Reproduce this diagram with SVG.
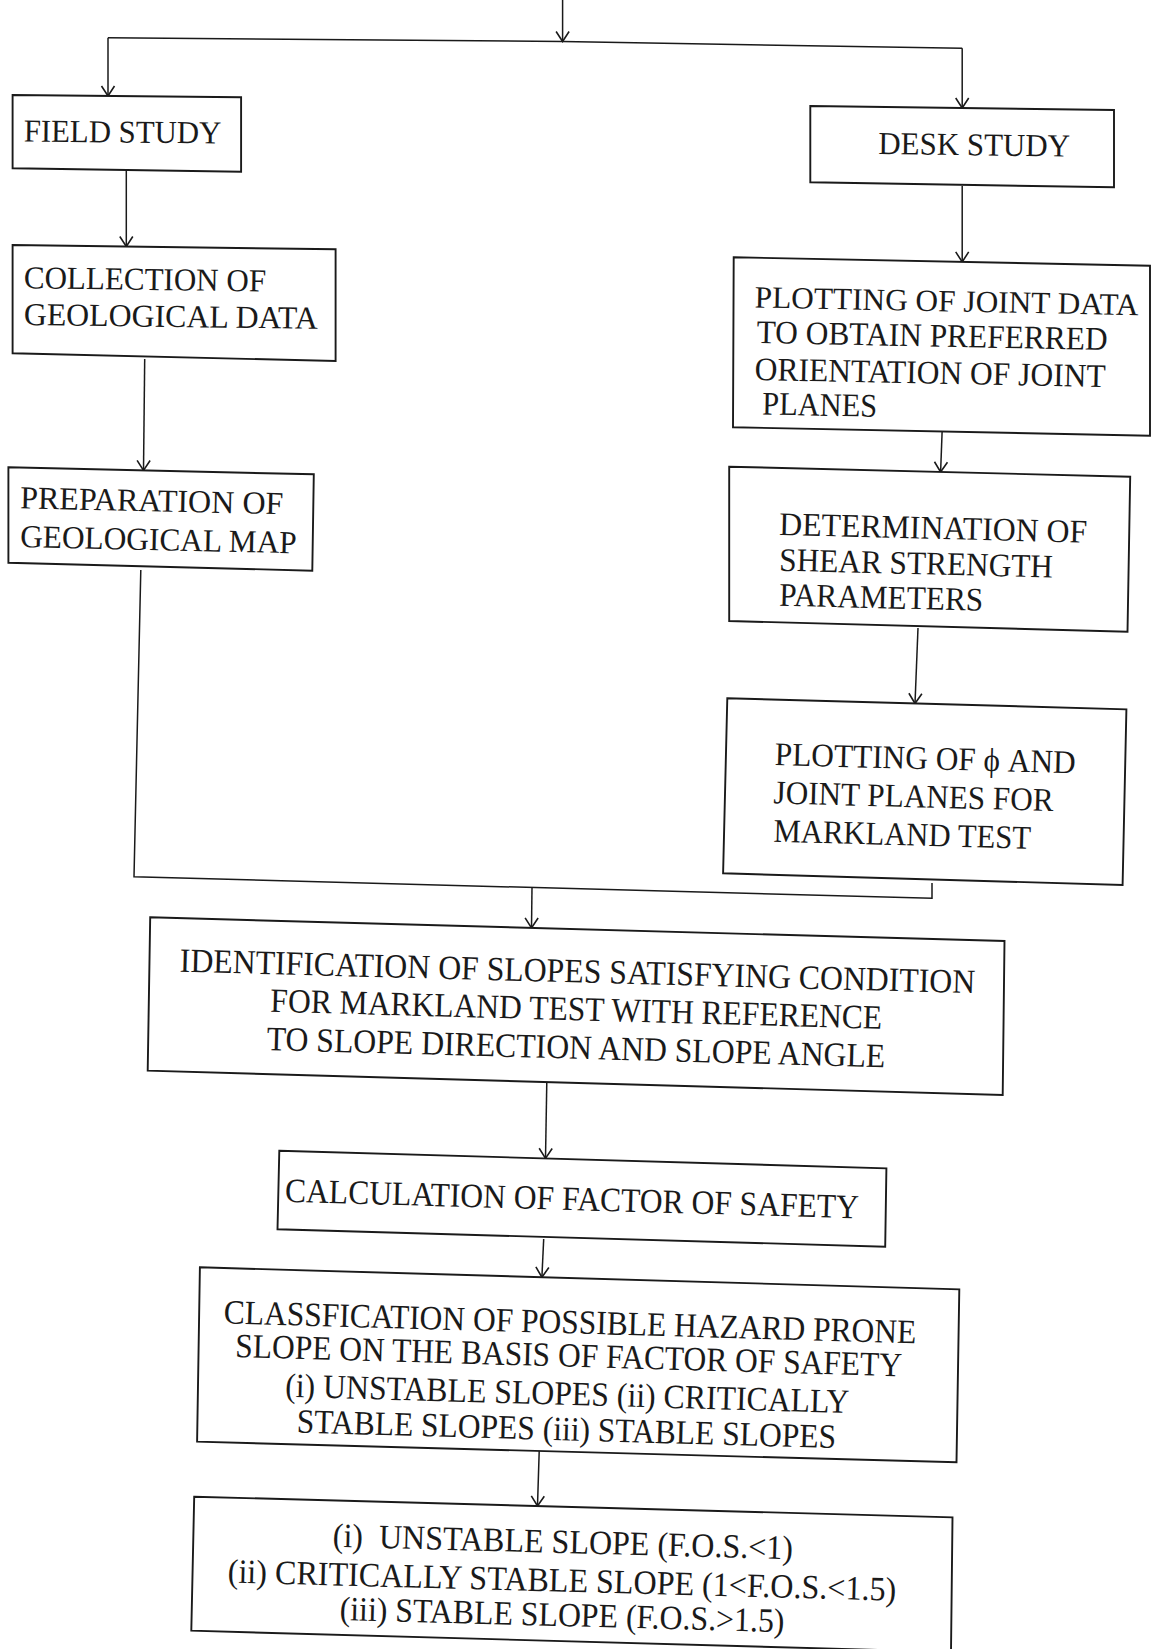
<svg xmlns="http://www.w3.org/2000/svg" width="1152" height="1649" viewBox="0 0 1152 1649">
<style>
.box{fill:#fff;stroke:#1a1a1a;stroke-width:1.9;stroke-linejoin:miter}
.t{font-family:"Liberation Serif","Times New Roman",serif;font-size:32px;fill:#1a1a1a}
.m{font-size:33px}
.l{font-size:34px}
.c{fill:none;stroke:#1a1a1a;stroke-width:1.5}
.a{marker-end:url(#arr)}
</style>
<defs>
<marker id="arr" viewBox="-11 -8 12 16" refX="0" refY="0" markerWidth="12" markerHeight="16" markerUnits="userSpaceOnUse" orient="auto">
<path d="M-10,-6.5 L0,0 L-10,6.5" fill="none" stroke="#1a1a1a" stroke-width="1.6"/>
</marker>
</defs>
<rect width="1152" height="1649" fill="#fff"/>
<g id="connectors">
<path class="c a" d="M562.6,0 L562.6,41.5"/>
<path class="c" d="M108,37.7 L562.6,41.5 L962.2,48.3"/>
<path class="c a" d="M108,37.7 L108,96"/>
<path class="c a" d="M962.2,48.3 L962.2,108"/>
<path class="c a" d="M126.3,171 L126.3,246.5"/>
<path class="c a" d="M144.7,359 L143.5,470.4"/>
<path class="c" d="M140.8,570 L134,876.7 L932,898.3 L932,883"/>
<path class="c a" d="M532,887.5 L531.5,927.9"/>
<path class="c a" d="M962.2,186 L962.2,261.9"/>
<path class="c a" d="M942.1,432 L940.6,472"/>
<path class="c a" d="M918,628 L915,703.5"/>
<path class="c a" d="M546.8,1082 L545.5,1158.4"/>
<path class="c a" d="M543.7,1239 L541.9,1277.2"/>
<path class="c a" d="M539.2,1451 L537.5,1506"/>
</g>
<g id="field-study">
<polygon class="box" points="12.6,95 241.1,97.3 241.1,171.7 12.6,168.3"/>
<text class="t" x="23.7" y="141.5" textLength="197.5" lengthAdjust="spacingAndGlyphs" transform="rotate(0.58 23.7 141.5)">FIELD STUDY</text>
</g>
<g id="desk-study">
<polygon class="box" points="810.3,106 1114,110 1114,187.3 810.3,182.3"/>
<text class="t" x="878.3" y="154" textLength="191.5" lengthAdjust="spacingAndGlyphs" transform="rotate(0.75 878.3 154)">DESK STUDY</text>
</g>
<g id="collection">
<polygon class="box" points="12.6,245 335.6,249.3 335.6,361 12.6,353.3"/>
<text class="t" x="23.7" y="288.3" textLength="242.3" lengthAdjust="spacingAndGlyphs" transform="rotate(0.76 23.7 288.3)">COLLECTION OF</text>
<text class="t" x="23.7" y="325" textLength="294" lengthAdjust="spacingAndGlyphs" transform="rotate(0.76 23.7 325)">GEOLOGICAL DATA</text>
</g>
<g id="plotting-joint-data">
<polygon class="box" points="733.7,257.3 1150,265.7 1150,435.7 733,427.3"/>
<text class="t" x="754.5" y="307.5" style="font-size:31px" textLength="384" lengthAdjust="spacingAndGlyphs" transform="rotate(1.15 754.5 307.5)">PLOTTING OF JOINT DATA</text>
<text class="t m" x="756.4" y="343" textLength="351" lengthAdjust="spacingAndGlyphs" transform="rotate(1.15 756.4 343)">TO OBTAIN PREFERRED</text>
<text class="t m" x="754.5" y="380" textLength="351" lengthAdjust="spacingAndGlyphs" transform="rotate(1.15 754.5 380)">ORIENTATION OF JOINT</text>
<text class="t m" x="762" y="414.5" textLength="115" lengthAdjust="spacingAndGlyphs" transform="rotate(1.15 762 414.5)">PLANES</text>
</g>
<g id="preparation">
<polygon class="box" points="8.4,467.3 313.8,474.3 312.3,570.7 8.4,562.7"/>
<text class="t" x="19.9" y="508.3" textLength="263.3" lengthAdjust="spacingAndGlyphs" transform="rotate(1.3 19.9 508.3)">PREPARATION OF</text>
<text class="t" x="19.9" y="547" textLength="276.7" lengthAdjust="spacingAndGlyphs" transform="rotate(1.3 19.9 547)">GEOLOGICAL MAP</text>
</g>
<g id="determination">
<polygon class="box" points="729.2,466.7 1130.2,476.7 1127.5,631.7 729.2,621"/>
<text class="t m" x="779" y="535" textLength="308" lengthAdjust="spacingAndGlyphs" transform="rotate(1.43 779 535)">DETERMINATION OF</text>
<text class="t m" x="779" y="570.7" textLength="273.8" lengthAdjust="spacingAndGlyphs" transform="rotate(1.43 779 570.7)">SHEAR STRENGTH</text>
<text class="t m" x="779" y="605.7" textLength="204" lengthAdjust="spacingAndGlyphs" transform="rotate(1.43 779 605.7)">PARAMETERS</text>
</g>
<g id="plotting-phi">
<polygon class="box" points="727.3,698.3 1126.4,709.3 1122.6,885 723.1,873.3"/>
<text class="t m" x="774.5" y="765" textLength="301" lengthAdjust="spacingAndGlyphs" transform="rotate(1.58 774.5 765)">PLOTTING OF ϕ AND</text>
<text class="t m" x="773.3" y="803.3" textLength="280" lengthAdjust="spacingAndGlyphs" transform="rotate(1.58 773.3 803.3)">JOINT PLANES FOR</text>
<text class="t m" x="773.3" y="841.7" textLength="257.5" lengthAdjust="spacingAndGlyphs" transform="rotate(1.58 773.3 841.7)">MARKLAND TEST</text>
</g>
<g id="identification">
<polygon class="box" points="150.2,917.3 1004.5,941 1002.7,1095 147.7,1070.7"/>
<text class="t l" x="179.6" y="971.7" textLength="795.6" lengthAdjust="spacingAndGlyphs" transform="rotate(1.55 179.6 971.7)">IDENTIFICATION OF SLOPES SATISFYING CONDITION</text>
<text class="t l" x="270.1" y="1011.7" textLength="612" lengthAdjust="spacingAndGlyphs" transform="rotate(1.6 270.1 1011.7)">FOR MARKLAND TEST WITH REFERENCE</text>
<text class="t l" x="266.5" y="1050" textLength="618.7" lengthAdjust="spacingAndGlyphs" transform="rotate(1.6 266.5 1050)">TO SLOPE DIRECTION AND SLOPE ANGLE</text>
</g>
<g id="calculation">
<polygon class="box" points="279.3,1150.7 886.4,1168.3 885.2,1246.7 277.5,1229.3"/>
<text class="t l" x="284.8" y="1201.7" textLength="574" lengthAdjust="spacingAndGlyphs" transform="rotate(1.66 284.8 1201.7)">CALCULATION OF FACTOR OF SAFETY</text>
</g>
<g id="classification">
<polygon class="box" points="199.9,1267.3 959.3,1289.3 956.5,1462.3 197.1,1441.7"/>
<text class="t l" x="223.5" y="1323.3" textLength="692.8" lengthAdjust="spacingAndGlyphs" transform="rotate(1.66 223.5 1323.3)">CLASSFICATION OF POSSIBLE HAZARD PRONE</text>
<text class="t l" x="235" y="1357" textLength="667" lengthAdjust="spacingAndGlyphs" transform="rotate(1.66 235 1357)">SLOPE ON THE BASIS OF FACTOR OF SAFETY</text>
<text class="t l" x="284.9" y="1396.7" textLength="564.2" lengthAdjust="spacingAndGlyphs" transform="rotate(1.66 284.9 1396.7)">(i) UNSTABLE SLOPES (ii) CRITICALLY</text>
<text class="t l" x="296.4" y="1432.5" textLength="539.6" lengthAdjust="spacingAndGlyphs" transform="rotate(1.66 296.4 1432.5)">STABLE SLOPES (iii) STABLE SLOPES</text>
</g>
<g id="result">
<polygon class="box" points="194.2,1496.7 952.5,1517.3 951,1652 191.3,1630.7"/>
<text class="t l" x="332.5" y="1546.7" textLength="460.4" lengthAdjust="spacingAndGlyphs" xml:space="preserve" transform="rotate(1.56 332.5 1546.7)">(i)  UNSTABLE SLOPE (F.O.S.&lt;1)</text>
<text class="t l" x="227.5" y="1582.5" textLength="668.7" lengthAdjust="spacingAndGlyphs" transform="rotate(1.56 227.5 1582.5)">(ii) CRITICALLY STABLE SLOPE (1&lt;F.O.S.&lt;1.5)</text>
<text class="t l" x="339.4" y="1620" textLength="444.9" lengthAdjust="spacingAndGlyphs" transform="rotate(1.56 339.4 1620)">(iii) STABLE SLOPE (F.O.S.&gt;1.5)</text>
</g>
</svg>
